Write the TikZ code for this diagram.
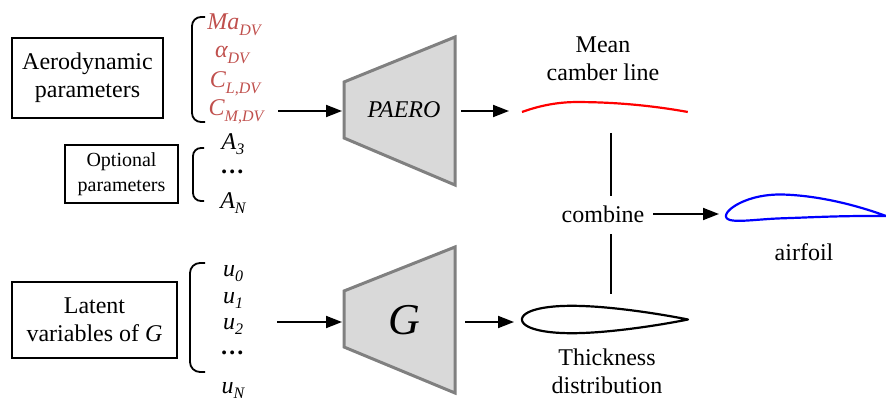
\documentclass[tikz,border=0pt]{standalone}
\usepackage{fontspec}
\setmainfont{Liberation Serif}
\usetikzlibrary{arrows.meta}
\definecolor{redt}{RGB}{192,80,77}
\definecolor{trapfill}{RGB}{217,217,217}
\definecolor{trapgray}{RGB}{128,128,128}
\newcommand\sbs[1]{\raisebox{-0.22em}{\fontsize{16}{16}\selectfont #1}}
\begin{document}
\begin{tikzpicture}[x=1pt,y=-1pt,
 declare function={
  yt(\u,\t)=5*\t*(0.2969*sqrt(\u)-0.1260*\u-0.3516*\u*\u+0.2843*\u*\u*\u-0.1036*\u*\u*\u*\u);
  cb(\u,\m,\p)=(\u<\p)*(\m/(\p*\p)*(2*\p*\u-\u*\u))+(\u>=\p)*(\m/((1-\p)*(1-\p))*(1-2*\p+2*\p*\u-\u*\u));
 },
 box/.style={draw, line width=1.8pt, align=center, inner sep=0pt, font=\fontsize{24}{28}\selectfont},
 lbl/.style={align=center, inner sep=0pt, font=\fontsize{24}{28}\selectfont},
 var/.style={inner sep=0pt, anchor=base, font=\fontsize{24}{28}\selectfont\itshape},
 vlist/.style={inner sep=0pt, anchor=base, align=center, font=\fontsize{24}{27}\selectfont\itshape},
 redvar/.style={var, text=redt},
 arr/.style={line width=1.8pt, -{Triangle[length=16pt,width=12pt]}},
 brk/.style={line width=1.8pt, rounded corners=9pt},
 trap/.style={draw=trapgray, fill=trapfill, line width=3pt, line join=miter},
 foil/.style={line width=2.2pt},
 conn/.style={line width=1.8pt},
]
\useasboundingbox (0,0) rectangle (886,401);

% input boxes
\node[box, minimum width=151pt, minimum height=80pt] (aero) at (87.5,78) {Aerodynamic\\parameters};
\node[box, minimum width=113pt, minimum height=58pt, font=\fontsize{20}{25}\selectfont] (opt) at (121.5,174) {Optional\\parameters};
\node[box, minimum width=165pt, minimum height=76pt] (lat) at (94.5,320) {Latent\\variables of \textit{G}};

% brackets
\draw[brk] (205,17) -- (192,17) -- (192,122) -- (205,122);
\draw[brk, rounded corners=8pt] (204,148) -- (193,148) -- (193,201) -- (204,201);
\draw[brk, rounded corners=10pt] (205,263) -- (190,263) -- (190,372) -- (205,372);

% red variables
\node[redvar] (ma) at (234,30) {Ma\sbs{DV}};
\node[redvar] (al) at (232,58) {α\sbs{DV}};
\node[redvar] (cl) at (235,88) {C\sbs{L,DV}};
\node[redvar] (cm) at (236,116) {C\sbs{M,DV}};

% optional variables (anchor base = last line)
\node[vlist] (alist) at (233,208) {A\sbs{3}\\[-3pt]\textbf{…}\\[8pt]A\sbs{N}};

% latent variables (anchor base = last line)
\node[vlist] (ulist) at (233,393) {u\sbs{0}\\u\sbs{1}\\[-1pt]u\sbs{2}\\[-2pt]\textbf{…}\\[12pt]u\sbs{N}};

% trapezoids
\draw[trap] (344,82) -- (455,37) -- (455,185) -- (344,138) -- cycle;
\node[lbl, font=\fontsize{24}{28}\selectfont\itshape] (paero) at (404,110) {PAERO};
\draw[trap] (344,291) -- (455,247) -- (455,393) -- (344,347) -- cycle;
\node[lbl, font=\fontsize{44}{44}\selectfont\itshape] (gen) at (404,320) {G};

% connector coordinates
\coordinate (a1s) at (278,111);
\coordinate (pL) at (342,111);
\coordinate (pR) at (461,111);
\coordinate (cL) at (509,111);
\coordinate (a3s) at (277,322);
\coordinate (gL) at (342,322);
\coordinate (gR) at (465,322);
\coordinate (tL) at (514,322);
\coordinate (v1a) at (611,133);
\coordinate (v1b) at (611,196);
\coordinate (v2a) at (611,234);
\coordinate (v2b) at (611,294);
\coordinate (cbR) at (653,214);
\coordinate (afL) at (719,214);

\draw[arr] (a1s) -- (pL);
\draw[arr] (pR) -- (cL);
\draw[arr] (a3s) -- (gL);
\draw[arr] (gR) -- (tL);
\draw[conn] (v1a) -- (v1b);
\draw[conn] (v2a) -- (v2b);
\draw[arr] (cbR) -- (afL);

% labels
\node[lbl] (mcl) at (603,59) {Mean\\camber line};
\node[lbl] (comb) at (603,214) {combine};
\node[lbl] (afl) at (804,252) {airfoil};
\node[lbl] (thk) at (607,371) {Thickness\\distribution};

% mean camber line
\draw[foil, red] plot[domain=0:1, samples=60, smooth] ({522+166*\x*\x},{112-166*cb(\x*\x,0.06,0.33)});

% thickness distribution
\draw[foil, black, line join=round] plot[domain=1:0, samples=60, smooth] ({522+166*\x*\x},{319.5-166*yt(\x*\x,0.165)})
  -- plot[domain=0:1, samples=60, smooth] ({522+166*\x*\x},{319.5+166*yt(\x*\x,0.165)}) -- cycle;

% airfoil
\draw[foil, blue, line join=round] plot[domain=1:0, samples=60, smooth] ({726+160*\x*\x},{216-160*(cb(\x*\x,0.06,0.36)+yt(\x*\x,0.15))})
  -- plot[domain=0:1, samples=60, smooth] ({726+160*\x*\x},{216-160*(cb(\x*\x,0.06,0.36)-yt(\x*\x,0.15))}) -- cycle;
\end{tikzpicture}
\end{document}
